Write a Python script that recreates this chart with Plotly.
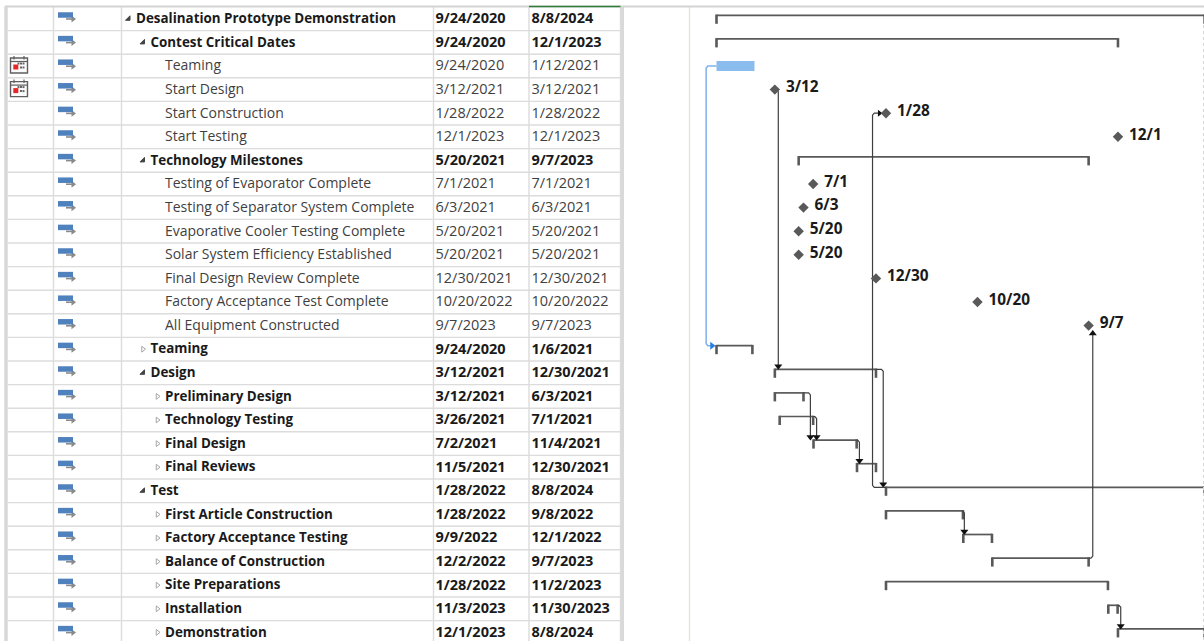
import pandas as pd
import plotly.graph_objects as go

# Schedule rows, top to bottom
task_names = [
    "Desalination Prototype Demonstration", "Contest Critical Dates", "Teaming", "Start Design",
    "Start Construction", "Start Testing", "Technology Milestones", "Testing of Evaporator Complete",
    "Testing of Separator System Complete", "Evaporative Cooler Testing Complete",
    "Solar System Efficiency Established", "Final Design Review Complete",
    "Factory Acceptance Test Complete", "All Equipment Constructed", "Teaming", "Design",
    "Preliminary Design", "Technology Testing", "Final Design", "Final Reviews", "Test",
    "First Article Construction", "Factory Acceptance Testing", "Balance of Construction",
    "Site Preparations", "Installation", "Demonstration",
]
outline_levels = [0, 1, 2, 2, 2, 2, 1, 2, 2, 2, 2, 2, 2, 2, 1, 1, 2, 2, 2, 2, 1, 2, 2, 2, 2, 2, 2]
is_summary = [1, 1, 0, 0, 0, 0, 1, 0, 0, 0, 0, 0, 0, 0, 1, 1, 1, 1, 1, 1, 1, 1, 1, 1, 1, 1, 1]
is_collapsed = [0, 0, 0, 0, 0, 0, 0, 0, 0, 0, 0, 0, 0, 0, 1, 0, 1, 1, 1, 1, 0, 1, 1, 1, 1, 1, 1]
start_dates = [
    "9/24/2020", "9/24/2020", "9/24/2020", "3/12/2021", "1/28/2022", "12/1/2023", "5/20/2021",
    "7/1/2021", "6/3/2021", "5/20/2021", "5/20/2021", "12/30/2021", "10/20/2022", "9/7/2023",
    "9/24/2020", "3/12/2021", "3/12/2021", "3/26/2021", "7/2/2021", "11/5/2021", "1/28/2022",
    "1/28/2022", "9/9/2022", "12/2/2022", "1/28/2022", "11/3/2023", "12/1/2023",
]
finish_dates = [
    "8/8/2024", "12/1/2023", "1/12/2021", "3/12/2021", "1/28/2022", "12/1/2023", "9/7/2023",
    "7/1/2021", "6/3/2021", "5/20/2021", "5/20/2021", "12/30/2021", "10/20/2022", "9/7/2023",
    "1/6/2021", "12/30/2021", "6/3/2021", "7/1/2021", "11/4/2021", "12/30/2021", "8/8/2024",
    "9/8/2022", "12/1/2022", "9/7/2023", "11/2/2023", "11/30/2023", "8/8/2024",
]
calendar_rows = [2, 3]

# Dependency links: predecessor row, successor row, date of the vertical run
link_from = [3, 15, 20, 16, 17, 18, 21, 23, 25]
link_to = [15, 20, 4, 18, 18, 19, 22, 13, 26]
link_elbow = ["2021-03-22", "2022-01-20", "2021-12-20", "2021-06-23", "2021-07-11",
              "2021-11-12", "2022-09-12", "2023-09-19", "2023-12-09"]
teaming_link_elbow = "2020-08-25"

# Page layout
WIDTH, HEIGHT = 1204, 641
ROW_H, ROW0 = 23.6, 18.8
PX_PER_DAY = 0.3452
ORIGIN_PX, ORIGIN_DATE = 716.5, pd.Timestamp("2020-09-24")
COLS = [53.5, 121.5, 433.5, 529, 620.5]
NAME_X = [136, 150.5, 165]
TOP = 6.5
INK, SOFT, BAR_GREY = "#1a1a1a", "#3f3f3f", "#595959"
FONT = "Open Sans"


def px_to_date(px):
    return ORIGIN_DATE + pd.Timedelta(days=(px - ORIGIN_PX) / PX_PER_DAY)


def dy(px):
    return px / ROW_H


starts = pd.to_datetime(start_dates)
finishes = pd.to_datetime(finish_dates)
n = len(task_names)
rows = list(range(n))
BAR_OFFSET = dy(-3.5)
bar_y = [r + BAR_OFFSET for r in rows]
TEXT_Y = dy(0.8)

fig = go.Figure()


def table(x, y, **kw):
    fig.add_trace(go.Scatter(x=x, y=y, xaxis="x2", yaxis="y", showlegend=False, hoverinfo="skip", **kw))


def gantt(x, y, **kw):
    fig.add_trace(go.Scatter(x=x, y=y, xaxis="x", yaxis="y", showlegend=False, hoverinfo="skip", **kw))


# Grid of the task sheet
bottom = n
hx, hy = [], []
for r in rows:
    hx += [8, 620, None]
    hy += [r + 0.5, r + 0.5, None]
table(hx, hy, mode="lines", line=dict(color="#dcdcdc", width=1.4))
vx, vy = [], []
for c in COLS:
    vx += [c, c, None]
    vy += [dy(TOP - ROW0), bottom, None]
table(vx, vy, mode="lines", line=dict(color="#dcdcdc", width=1.4))
table([6, 6], [dy(TOP - ROW0), bottom], mode="lines", line=dict(color="#d8d8d8", width=3.5))
table([622.5, 622.5], [dy(TOP - ROW0), bottom], mode="lines", line=dict(color="#d9d9d9", width=3))
table([689.5, 689.5], [dy(TOP - ROW0), bottom], mode="lines", line=dict(color="#d9e8d8", width=1.2))
table([1203.5, 1203.5], [dy(25 - ROW0), bottom], mode="lines",
      line=dict(color="#d8d8d8", width=1, dash="dot"))
table([5, 1204], [dy(TOP - ROW0)] * 2, mode="lines", line=dict(color="#d4d4d4", width=1.8))
table([529, 620.5], [dy(TOP - ROW0)] * 2, mode="lines", line=dict(color="#2f7d3a", width=1.6))

# Task mode icons
ix, iy = [], []
ax, ay = [], []
for r in rows:
    ix += [58, 73, None]
    iy += [r + dy(-3.8), r + dy(-3.8), None]
    ax += [66, 72, None]
    ay += [r + dy(0.2), r + dy(0.2), None]
table(ax, ay, mode="lines", line=dict(color="#8a8a8a", width=1.6))
table([73] * n, [r + dy(0.2) for r in rows], mode="markers",
      marker=dict(symbol="triangle-right", size=6, color="#8a8a8a"))
table(ix, iy, mode="lines", line=dict(color="#4f81bd", width=5.5))

# Calendar constraint icons
for r in calendar_rows:
    fig.add_shape(type="rect", xref="x2", yref="y", x0=10.5, x1=27.5, y0=r + dy(-8), y1=r + dy(7),
                  line=dict(color="#5f5f5f", width=1.4), fillcolor="#fbfbfb", layer="below")
    fig.add_shape(type="line", xref="x2", yref="y", x0=10.5, x1=27.5, y0=r + dy(-4.5), y1=r + dy(-4.5),
                  line=dict(color="#5f5f5f", width=1.2), layer="below")
    for ring in (14, 24):
        fig.add_shape(type="line", xref="x2", yref="y", x0=ring, x1=ring, y0=r + dy(-10), y1=r + dy(-6.5),
                      line=dict(color="#5f5f5f", width=1.2), layer="below")
    table([18.5, 21, 23.5, 21, 23.5], [r + dy(-2.5)] * 3 + [r + dy(1.5)] * 2, mode="markers",
          marker=dict(symbol="square", size=2, color="#666666"))
    table([15.8], [r + dy(1)], mode="markers",
          marker=dict(symbol="square", size=5, color="#e8262a"))

# Outline toggles
for collapsed, symbol, color, size in [(0, "triangle-se", "#444444", 5), (1, "triangle-right-open", "#a6a6a6", 5)]:
    tr = [r for r in rows if is_summary[r] and is_collapsed[r] == collapsed]
    table([NAME_X[outline_levels[r]] - 7.5 for r in tr], tr, mode="markers",
          marker=dict(symbol=symbol, size=size, color=color, line=dict(width=1, color=color)))

# Sheet text
for flag, weight, color, name_size in [(1, "bold", INK, 13.4), (0, "normal", SOFT, 14.0)]:
    tr = [r for r in rows if is_summary[r] == flag]
    text_y = [r + TEXT_Y for r in tr]
    date_font = dict(family=FONT, size=14.5, color=color, weight=weight)
    table([NAME_X[outline_levels[r]] for r in tr], text_y, mode="text", text=[task_names[r] for r in tr],
          textposition="middle right", textfont=dict(family=FONT, size=name_size, color=color, weight=weight))
    table([435.5] * len(tr), text_y, mode="text", text=[start_dates[r] for r in tr],
          textposition="middle right", textfont=date_font)
    table([531.5] * len(tr), text_y, mode="text", text=[finish_dates[r] for r in tr],
          textposition="middle right", textfont=date_font)

# Summary brackets
LEG = dy(8.5)
sx, sy, lx, ly = [], [], [], []
for r in rows:
    if is_summary[r]:
        sx += [starts[r], finishes[r], None]
        sy += [bar_y[r], bar_y[r], None]
        for d in (starts[r], finishes[r]):
            lx += [d, d, None]
            ly += [bar_y[r] - dy(0.8), bar_y[r] + LEG, None]
gantt(sx, sy, mode="lines", line=dict(color=BAR_GREY, width=1.7))
gantt(lx, ly, mode="lines", line=dict(color=BAR_GREY, width=2.6))


def rounded(points, cut_days=5, cut_rows=0.085):
    """Chamfer the inner corners of an axis-aligned connector."""
    out = [points[0]]
    for i in range(1, len(points) - 1):
        (x0, y0), (x1, y1), (x2, y2) = points[i - 1], points[i], points[i + 1]
        cut = pd.Timedelta(days=cut_days)
        if y0 == y1:
            before = (x1 - cut if x0 < x1 else x1 + cut, y1)
            after = (x1, y1 + cut_rows if y2 > y1 else y1 - cut_rows)
        else:
            before = (x1, y1 - cut_rows if y0 < y1 else y1 + cut_rows)
            after = (x1 + cut if x2 > x1 else x1 - cut, y1)
        out += [before, after]
    out.append(points[-1])
    return out


def trace_link(points, color, width):
    p = rounded(points)
    gantt([a for a, _ in p], [b for _, b in p], mode="lines", line=dict(color=color, width=width))


# Connector from the Teaming task down to its rollup
elbow = pd.Timestamp(teaming_link_elbow)
blue_y = bar_y[14]
trace_link([(starts[2], 2), (elbow, 2), (elbow, blue_y), (px_to_date(711), blue_y)], "#7fb2ea", 1.5)
gantt([px_to_date(712)], [blue_y], mode="markers",
      marker=dict(symbol="triangle-right", size=7, color="#2a7de1"))

# Remaining dependency connectors
for a, b, e in zip(link_from, link_to, link_elbow):
    e = pd.Timestamp(e)
    y_from = bar_y[a] if is_summary[a] else a
    x_from = finishes[a] if a != 20 else starts[a]
    if is_summary[b]:
        y_to = bar_y[b]
        trace_link([(x_from, y_from), (e, y_from), (e, y_to - dy(3))], SOFT, 1.2)
        gantt([e], [y_to - dy(3)], mode="markers", marker=dict(symbol="triangle-down", size=7, color="#111111"))
    elif b == 13:
        trace_link([(x_from, y_from), (e, y_from), (e, b + dy(8))], SOFT, 1.2)
        gantt([e], [b + dy(8)], mode="markers", marker=dict(symbol="triangle-up", size=7, color="#111111"))
    else:
        head = starts[b] - pd.Timedelta(days=19)
        trace_link([(x_from, y_from), (e, y_from), (e, b), (head, b)], SOFT, 1.2)
        gantt([head], [b], mode="markers", marker=dict(symbol="triangle-right", size=6, color="#111111"))

# Teaming task bar
gantt([starts[2], finishes[2]], [2, 2], mode="lines", line=dict(color="#8bbcee", width=10))

# Milestones and their date labels
ms = [r for r in rows if not is_summary[r] and starts[r] == finishes[r]]
gantt([starts[r] for r in ms], ms, mode="markers",
      marker=dict(symbol="diamond", size=8, color=BAR_GREY))
gantt([starts[r] + pd.Timedelta(days=32) for r in ms], [r - dy(1.1) for r in ms], mode="text",
      text=[f"{starts[r].month}/{starts[r].day}" for r in ms], textposition="middle right",
      textfont=dict(family=FONT, size=15.4, color=INK, weight="bold"))

fig.update_layout(
    width=WIDTH, height=HEIGHT, autosize=False,
    margin=dict(l=0, r=0, t=0, b=0),
    paper_bgcolor="white", plot_bgcolor="white",
    xaxis=dict(type="date", range=[px_to_date(0), px_to_date(WIDTH)], visible=False, domain=[0, 1]),
    xaxis2=dict(range=[0, WIDTH], visible=False, overlaying="x", anchor="y"),
    yaxis=dict(range=[(HEIGHT - ROW0) / ROW_H, -ROW0 / ROW_H], visible=False, domain=[0, 1]),
)
fig.write_html("out.html", config={"displayModeBar": False})
